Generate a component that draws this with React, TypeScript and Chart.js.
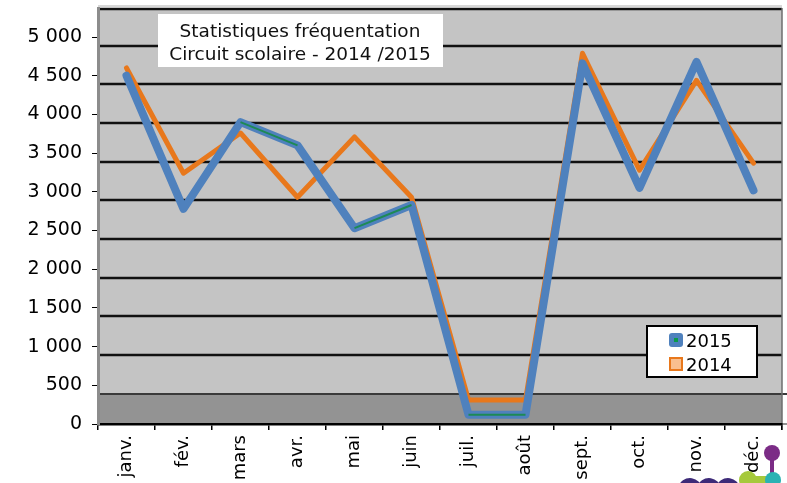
import { useEffect, useRef } from 'react';
import { Chart, registerables } from 'chart.js';

Chart.register(...registerables);

// Monthly attendance, school circuit
const months = ['janv.', 'fév.', 'mars', 'avr.', 'mai', 'juin', 'juil.', 'août', 'sept.', 'oct.', 'nov.', 'déc.'];
const visits2015 = [4500, 2780, 3900, 3600, 2530, 2830, 120, 120, 4660, 3050, 4680, 3020];
const visits2014 = [4600, 3240, 3760, 2930, 3710, 2930, 310, 310, 4790, 3280, 4440, 3370];
const yTickValues = [0, 500, 1000, 1500, 2000, 2500, 3000, 3500, 4000, 4500, 5000];
const titleLines = ['Statistiques fréquentation', 'Circuit scolaire - 2014 /2015'];
const seriesLabels = ['2015', '2014'];

const FONT = '"DejaVu Sans", Verdana, sans-serif';
const BLUE = '#4f81bd';
const GREEN = '#1d8a55';
const ORANGE = '#e8781c';
const ORANGE_LIGHT = '#f9bf8f';
const DEPTH = 8.5; // 3-D offset of the back wall, in px

const fmt = (v: number) => {
  const s = String(Math.round(v));
  return s.replace(/\B(?=(\d{3})+(?!\d))/g, ' ');
};

// segments of the 2015 ribbon where its top edge shows
const edgeSegments = [2, 4, 6];

const wallPlugin = {
  id: 'wall3d',
  beforeDraw(chart: any) {
    const { ctx, chartArea: a, scales } = chart;
    const y = scales.y;
    const floorTop = y.getPixelForValue(500) + DEPTH;
    ctx.save();
    ctx.fillStyle = '#c4c4c4';
    ctx.fillRect(a.left, a.top, a.right - a.left, floorTop - a.top);
    ctx.fillStyle = '#939393';
    ctx.fillRect(a.left, floorTop, a.right - a.left, a.bottom - floorTop);
    // back-wall gridlines
    ctx.strokeStyle = '#111';
    ctx.lineWidth = 2.5;
    for (const v of yTickValues) {
      if (v < 1000) continue;
      const py = Math.round(y.getPixelForValue(v) + DEPTH);
      ctx.beginPath();
      ctx.moveTo(a.left, py);
      ctx.lineTo(a.right, py);
      ctx.stroke();
    }
    ctx.strokeStyle = '#3a3a3a';
    ctx.lineWidth = 2;
    ctx.beginPath();
    ctx.moveTo(a.left, Math.round(floorTop));
    ctx.lineTo(a.right + 5, Math.round(floorTop));
    ctx.stroke();
    // top edge
    ctx.strokeStyle = '#d8d8d8';
    ctx.lineWidth = 2;
    ctx.beginPath();
    ctx.moveTo(a.left, a.top - 2);
    ctx.lineTo(a.right, a.top - 2);
    ctx.stroke();
    ctx.strokeStyle = '#111';
    ctx.lineWidth = 2.5;
    ctx.beginPath();
    ctx.moveTo(a.left, a.top + 1);
    ctx.lineTo(a.right, a.top + 1);
    ctx.stroke();
    // right edge
    ctx.strokeStyle = '#6e6e6e';
    ctx.lineWidth = 1.5;
    ctx.beginPath();
    ctx.moveTo(a.right, a.top);
    ctx.lineTo(a.right, a.bottom + 6);
    ctx.stroke();
    ctx.beginPath();
    ctx.moveTo(a.right, a.bottom);
    ctx.lineTo(a.right + 5, a.bottom);
    ctx.stroke();
    ctx.restore();
  },
  afterDraw(chart: any) {
    const { ctx } = chart;
    ctx.save();
    // title box
    ctx.fillStyle = '#fff';
    ctx.fillRect(158, 14, 285, 53);
    ctx.fillStyle = '#111';
    ctx.font = `18.5px ${FONT}`;
    ctx.textAlign = 'center';
    ctx.textBaseline = 'alphabetic';
    ctx.fillText(titleLines[0], 300, 37);
    ctx.fillText(titleLines[1], 300, 60);

    // legend
    ctx.fillStyle = '#fff';
    ctx.fillRect(647, 326, 110, 51);
    ctx.strokeStyle = '#000';
    ctx.lineWidth = 2;
    ctx.strokeRect(647, 326, 110, 51);
    // 2015 marker
    ctx.fillStyle = BLUE;
    ctx.beginPath();
    ctx.roundRect(669, 333, 14, 14, 3);
    ctx.fill();
    ctx.fillStyle = '#0a9a4a';
    ctx.fillRect(674, 338, 4, 4);
    // 2014 marker
    ctx.fillStyle = ORANGE_LIGHT;
    ctx.fillRect(670, 358, 12, 12);
    ctx.strokeStyle = ORANGE;
    ctx.lineWidth = 2;
    ctx.strokeRect(670, 358, 12, 12);
    ctx.fillStyle = '#000';
    ctx.font = `18px ${FONT}`;
    ctx.textAlign = 'left';
    ctx.fillText(seriesLabels[0], 686, 347);
    ctx.fillText(seriesLabels[1], 686, 371);

    // logo fragment, bottom right
    ctx.strokeStyle = '#7b2c86';
    ctx.lineWidth = 4;
    ctx.beginPath();
    ctx.moveTo(772, 453);
    ctx.lineTo(772, 474);
    ctx.stroke();
    ctx.fillStyle = '#7b2c86';
    ctx.beginPath();
    ctx.arc(772, 453, 8, 0, Math.PI * 2);
    ctx.fill();
    ctx.fillStyle = '#a6c93c';
    ctx.beginPath();
    ctx.arc(748, 480, 9, 0, Math.PI * 2);
    ctx.fill();
    ctx.fillRect(748, 476, 20, 8);
    ctx.fillStyle = '#2bb2b3';
    ctx.beginPath();
    ctx.arc(773, 480, 8, 0, Math.PI * 2);
    ctx.fill();
    ctx.strokeStyle = '#3d2a78';
    ctx.lineWidth = 6;
    for (const cx of [690, 709, 728]) {
      ctx.beginPath();
      ctx.arc(cx, 490, 9, Math.PI * 1.05, Math.PI * 1.95);
      ctx.stroke();
    }
    ctx.restore();
  },
};

export default function App() {
  const ref = useRef<HTMLCanvasElement | null>(null);

  useEffect(() => {
    if (!ref.current) return;
    const chart = new Chart(ref.current, {
      type: 'line',
      data: {
        labels: months,
        datasets: [
          {
            label: seriesLabels[0] + ' edge',
            data: visits2015,
            borderWidth: 2,
            borderColor: 'rgba(0,0,0,0)',
            segment: {
              borderColor: (c: any) => (edgeSegments.includes(c.p0DataIndex) ? GREEN : 'rgba(0,0,0,0)'),
            },
            pointRadius: 0,
            tension: 0,
            order: 0,
          },
          {
            label: seriesLabels[0],
            data: visits2015,
            borderColor: BLUE,
            borderWidth: 8,
            borderJoinStyle: 'round',
            borderCapStyle: 'round',
            pointRadius: 0,
            tension: 0,
            order: 1,
          },
          {
            label: seriesLabels[1],
            data: visits2014,
            borderColor: ORANGE,
            borderWidth: 5,
            borderJoinStyle: 'round',
            borderCapStyle: 'round',
            pointRadius: 0,
            tension: 0,
            order: 2,
          },
        ],
      },
      options: {
        animation: false,
        responsive: false,
        devicePixelRatio: 1,
        layout: { padding: { top: 8, right: 5, left: 0, bottom: 0 } },
        plugins: {
          legend: { display: false },
          tooltip: { enabled: false },
          title: { display: false },
        },
        scales: {
          x: {
            type: 'category',
            offset: true,
            grid: {
              display: true,
              offset: true,
              drawOnChartArea: false,
              drawTicks: true,
              tickLength: 6,
              color: '#000',
              lineWidth: 1.5,
            },
            border: { display: true, color: '#000', width: 2.5 },
            ticks: {
              color: '#000',
              font: { family: FONT, size: 18 },
              minRotation: 90,
              maxRotation: 90,
              padding: 5,
              autoSkip: false,
            },
            afterFit: (s: any) => {
              s.height = 59;
              s.paddingLeft = 0;
              s.paddingRight = 0;
            },
          },
          y: {
            min: 0,
            max: 5375,
            grid: {
              display: true,
              drawOnChartArea: false,
              drawTicks: true,
              tickLength: 6,
              color: '#000',
              lineWidth: 1,
            },
            border: { display: true, color: '#8c8c8c', width: 3 },
            ticks: {
              color: '#000',
              font: { family: FONT, size: 19 },
              padding: 10,
              callback: (v: any) => fmt(Number(v)),
            },
            afterBuildTicks: (s: any) => {
              s.ticks = yTickValues.map((v) => ({ value: v }));
            },
            afterFit: (s: any) => {
              s.width = 98;
              s.paddingTop = 0;
              s.paddingBottom = 0;
            },
          },
        },
      },
      plugins: [wallPlugin],
    });
    return () => chart.destroy();
  }, []);

  return (
    <div style={{ position: 'fixed', left: 0, top: 0, width: 787, height: 483, background: '#fff', overflow: 'hidden' }}>
      <canvas ref={ref} width={787} height={483} style={{ display: 'block', width: 787, height: 483 }} />
    </div>
  );
}
